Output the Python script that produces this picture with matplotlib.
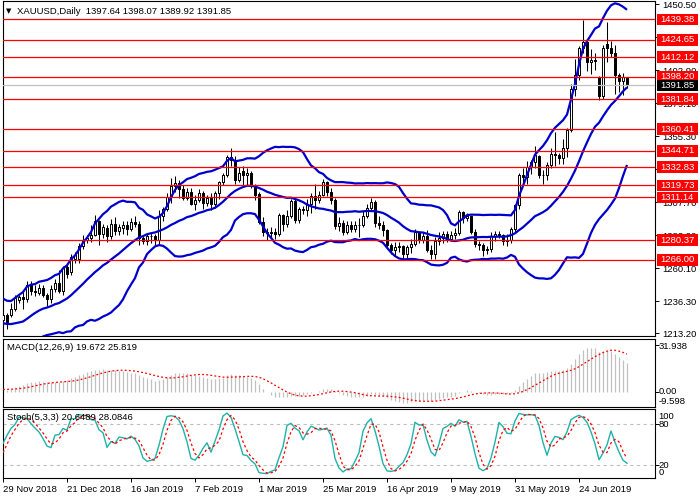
import numpy as np
import pandas as pd
import matplotlib
matplotlib.use("Agg")
import matplotlib.pyplot as plt
from matplotlib.patches import Rectangle
from matplotlib.collections import PatchCollection
import matplotlib.transforms as mtransforms

plt.rcParams['font.family'] = ['Liberation Sans', 'DejaVu Sans']

# ---------------- data (XAUUSD daily, 29 Nov 2018 .. 10 Jul 2019) ----------------
opens = [
    1222.5, 1226.0, 1226.0, 1231.0, 1237.5, 1239.0, 1238.0, 1248.0, 1244.0, 1242.5,
    1246.0, 1241.0, 1238.0, 1245.0, 1249.5, 1243.5, 1261.0, 1257.0, 1266.5, 1267.0,
    1276.0, 1280.5, 1282.0, 1284.0, 1294.0, 1285.0, 1289.0, 1283.5, 1292.0, 1287.0,
    1289.0, 1291.5, 1288.0, 1293.5, 1292.0, 1282.0, 1280.0, 1283.5, 1283.0, 1280.5,
    1298.0, 1302.5, 1311.5, 1319.5, 1321.5, 1317.0, 1311.0, 1315.0, 1306.5, 1309.5,
    1314.0, 1307.0, 1311.0, 1306.0, 1314.0, 1322.0, 1327.5, 1340.5, 1338.0, 1324.0,
    1330.0, 1327.5, 1329.0, 1320.0, 1313.5, 1293.5, 1286.5, 1285.5, 1286.5, 1285.0,
    1298.5, 1292.0, 1298.0, 1308.5, 1295.0, 1302.5, 1302.0, 1306.0, 1312.0, 1309.0,
    1313.0, 1322.0, 1315.0, 1309.5, 1290.5, 1292.5, 1286.5, 1291.0, 1288.5, 1291.0,
    1291.0, 1298.0, 1303.5, 1307.5, 1293.0, 1291.0, 1287.5, 1276.5, 1273.5, 1275.0,
    1276.0, 1270.5, 1275.5, 1277.5, 1286.0, 1280.5, 1283.5, 1273.5, 1270.5, 1279.5,
    1281.5, 1284.5, 1281.0, 1284.0, 1285.5, 1300.5, 1296.5, 1297.5, 1286.5, 1277.5,
    1277.0, 1273.0, 1274.0, 1283.5, 1284.5, 1284.0, 1279.5, 1280.5, 1288.0, 1305.5,
    1327.0, 1326.0, 1333.0, 1336.5, 1341.0, 1327.5, 1327.0, 1334.5, 1342.5, 1341.5,
    1339.5, 1346.5, 1359.5, 1389.0, 1399.5, 1418.5, 1423.5, 1409.0, 1410.0, 1398.0,
    1384.0, 1422.0, 1419.0, 1415.0, 1399.5, 1395.0, 1397.64,
]
highs = [
    1229.8, 1227.5, 1235.0, 1241.0, 1241.0, 1243.0, 1251.0, 1251.0, 1248.0, 1249.0,
    1248.0, 1242.0, 1248.0, 1252.0, 1259.0, 1262.0, 1263.0, 1270.0, 1272.0, 1278.0,
    1284.0, 1284.0, 1291.0, 1298.5, 1295.0, 1292.0, 1291.5, 1295.5, 1297.0, 1292.0,
    1294.0, 1294.0, 1296.0, 1298.0, 1294.0, 1284.0, 1285.5, 1286.0, 1284.5, 1302.0,
    1304.0, 1314.0, 1325.0, 1326.3, 1324.0, 1320.0, 1318.0, 1318.0, 1313.0, 1317.0,
    1316.0, 1313.0, 1314.0, 1316.0, 1323.0, 1329.0, 1342.0, 1346.8, 1341.0, 1333.0,
    1334.0, 1332.0, 1330.5, 1321.0, 1315.0, 1297.0, 1289.0, 1290.0, 1289.0, 1300.0,
    1299.0, 1302.0, 1310.0, 1310.0, 1304.0, 1305.0, 1310.0, 1314.0, 1320.5, 1316.0,
    1324.5, 1323.0, 1318.0, 1311.0, 1297.0, 1295.0, 1294.0, 1294.0, 1294.0, 1296.0,
    1301.0, 1306.0, 1311.0, 1309.0, 1298.0, 1294.0, 1288.5, 1278.0, 1279.0, 1279.0,
    1277.0, 1277.0, 1281.0, 1288.0, 1287.0, 1286.0, 1287.5, 1277.0, 1282.5, 1286.0,
    1287.0, 1287.0, 1287.0, 1289.0, 1302.0, 1301.0, 1300.0, 1298.0, 1288.0, 1280.0,
    1278.0, 1276.0, 1286.0, 1287.0, 1287.0, 1285.0, 1284.5, 1290.0, 1306.5, 1329.0,
    1332.0, 1337.0, 1338.0, 1348.0, 1341.5, 1331.0, 1336.5, 1347.0, 1358.5, 1343.0,
    1353.5, 1361.0, 1393.0, 1411.0, 1420.0, 1439.2, 1425.0, 1418.0, 1415.0, 1398.5,
    1421.0, 1437.7, 1424.0, 1421.0, 1401.0, 1401.0, 1398.07,
]
lows = [
    1219.0, 1216.5, 1225.0, 1229.0, 1235.0, 1231.0, 1236.0, 1241.0, 1240.0, 1241.0,
    1239.0, 1233.0, 1235.0, 1243.0, 1242.0, 1241.0, 1253.0, 1255.0, 1264.0, 1264.0,
    1274.0, 1278.0, 1279.0, 1283.0, 1276.5, 1282.0, 1279.0, 1281.0, 1284.0, 1284.0,
    1285.0, 1284.0, 1287.0, 1290.0, 1276.5, 1277.5, 1277.0, 1278.0, 1277.0, 1277.0,
    1294.0, 1301.0, 1307.0, 1315.0, 1311.0, 1309.0, 1309.0, 1305.5, 1302.0, 1308.0,
    1303.0, 1305.0, 1302.0, 1303.5, 1310.0, 1320.0, 1326.0, 1334.0, 1321.0, 1322.0,
    1319.0, 1320.0, 1318.0, 1309.0, 1292.0, 1283.5, 1280.5, 1282.0, 1281.0, 1283.0,
    1287.0, 1290.0, 1296.0, 1292.5, 1293.0, 1299.0, 1298.0, 1300.0, 1303.0, 1307.0,
    1312.0, 1312.0, 1306.0, 1288.0, 1287.0, 1284.0, 1285.0, 1286.0, 1286.0, 1282.5,
    1290.0, 1296.0, 1301.0, 1290.0, 1288.5, 1283.0, 1274.0, 1270.0, 1269.0, 1272.0,
    1266.0, 1267.0, 1271.0, 1276.0, 1278.0, 1278.0, 1272.0, 1266.5, 1267.0, 1277.0,
    1278.0, 1279.0, 1280.0, 1281.0, 1284.0, 1293.0, 1294.0, 1284.5, 1275.5, 1273.5,
    1269.0, 1270.0, 1272.0, 1280.0, 1282.0, 1277.0, 1276.0, 1278.0, 1286.0, 1303.0,
    1320.0, 1321.0, 1328.0, 1332.0, 1325.0, 1320.5, 1324.0, 1332.0, 1334.0, 1335.0,
    1335.0, 1340.0, 1358.5, 1384.0, 1395.5, 1415.0, 1402.0, 1400.0, 1403.0, 1381.5,
    1382.0, 1409.0, 1412.0, 1386.0, 1387.0, 1385.0, 1389.92,
]
closes = [
    1226.0, 1221.0, 1231.0, 1238.5, 1239.5, 1238.0, 1248.0, 1244.0, 1243.0, 1246.0,
    1241.0, 1238.0, 1245.0, 1249.5, 1243.5, 1260.0, 1256.0, 1268.0, 1269.5, 1276.0,
    1280.5, 1282.0, 1284.0, 1294.0, 1285.0, 1289.5, 1283.5, 1292.0, 1287.0, 1289.5,
    1291.5, 1288.0, 1293.5, 1292.0, 1282.0, 1280.0, 1283.5, 1283.0, 1280.5, 1297.5,
    1302.5, 1311.5, 1319.5, 1321.5, 1317.0, 1311.0, 1315.0, 1306.5, 1309.5, 1314.0,
    1307.0, 1311.0, 1306.0, 1314.0, 1322.0, 1327.5, 1340.5, 1338.0, 1324.0, 1329.0,
    1327.5, 1329.0, 1320.0, 1313.0, 1293.5, 1286.5, 1285.5, 1286.5, 1285.0, 1298.5,
    1292.0, 1298.0, 1308.5, 1295.0, 1302.5, 1302.0, 1306.0, 1312.0, 1309.0, 1313.0,
    1322.0, 1315.0, 1309.5, 1290.5, 1292.5, 1286.5, 1291.0, 1288.5, 1291.0, 1291.0,
    1298.0, 1303.5, 1307.5, 1292.5, 1291.0, 1287.5, 1276.5, 1273.5, 1275.0, 1276.0,
    1270.5, 1275.5, 1277.5, 1286.0, 1280.5, 1283.5, 1273.5, 1270.5, 1279.5, 1281.5,
    1284.5, 1281.0, 1284.0, 1285.5, 1300.5, 1296.5, 1297.5, 1286.5, 1277.5, 1277.0,
    1273.0, 1274.0, 1283.5, 1284.5, 1284.0, 1279.5, 1280.5, 1288.0, 1305.5, 1327.0,
    1326.0, 1333.0, 1336.5, 1341.5, 1327.5, 1327.0, 1334.5, 1342.5, 1341.5, 1339.5,
    1346.5, 1359.5, 1389.0, 1399.5, 1418.5, 1423.5, 1409.0, 1410.0, 1409.5, 1384.0,
    1418.5, 1419.0, 1415.0, 1399.5, 1395.0, 1397.6, 1391.85,
]
# closes before the visible window (Oct-Nov 2018, estimated), used to warm up the indicators
pre_close = [
    1188, 1204, 1202, 1199, 1203, 1188, 1190, 1194, 1225, 1218,
    1232, 1225, 1223, 1227, 1227, 1222, 1231, 1232, 1232, 1234,
    1228, 1224, 1215, 1233, 1233, 1232, 1227, 1228, 1224, 1209,
    1201, 1202, 1211, 1214, 1222, 1224, 1222, 1227, 1227, 1223,
    1222, 1214, 1221,
]
pre_high = [1225, 1226, 1229, 1229, 1229, 1227, 1226, 1224, 1226]
pre_low = [1213, 1220, 1219, 1221, 1225, 1221, 1219, 1211, 1212]

date_labels = ['29 Nov 2018', '21 Dec 2018', '16 Jan 2019', '7 Feb 2019', '1 Mar 2019',
               '25 Mar 2019', '16 Apr 2019', '9 May 2019', '31 May 2019', '24 Jun 2019']
date_bars = [0, 16, 32, 48, 64, 80, 96, 112, 128, 144]
levels = [1439.38, 1424.65, 1412.12, 1398.20, 1381.84, 1360.41, 1344.71, 1332.83,
          1319.73, 1311.14, 1280.37, 1266.00]
price_ticks = [1450.50, 1426.70, 1402.90, 1379.10, 1355.30, 1331.50, 1307.70,
               1283.90, 1260.10, 1236.30, 1213.20]
# tick labels that the level boxes hide completely in the reference
hidden_ticks = [1426.70, 1331.50]
last_price = 1391.85

# ---------------- indicators ----------------
N = len(closes)
x = np.arange(N)
npre = len(pre_close)
c_all = pd.Series(pre_close + closes, dtype=float)
mid = c_all.rolling(20).mean()
sd = c_all.rolling(20).std(ddof=0)
bb_mid = mid.values[npre:]
bb_up = (mid + 2 * sd).values[npre:]
bb_lo = (mid - 2 * sd).values[npre:]

ema12 = c_all.ewm(span=12, adjust=False).mean()
ema26 = c_all.ewm(span=26, adjust=False).mean()
macd = ema12 - ema26
sig = macd.rolling(9).mean()
macd_v = macd.values[npre:]
sig_v = sig.values[npre:]

kp = len(pre_high)
Hs = pd.Series(pre_high + highs, dtype=float)
Ls = pd.Series(pre_low + lows, dtype=float)
Cs = pd.Series(pre_close[-kp:] + closes, dtype=float)
hh = Hs.rolling(5).max()
ll = Ls.rolling(5).min()
K = 100 * (Cs - ll).rolling(3).sum() / (hh - ll).rolling(3).sum()
D = K.rolling(3).mean()
k_v = K.values[kp:]
d_v = D.values[kp:]

# ---------------- figure ----------------
W, HP = 700, 500
fig = plt.figure(figsize=(7, 5), dpi=100)
fig.patch.set_facecolor('white')
L0, R0 = 2.5, 655.0


def rect(top, bottom):
    return [L0 / W, 1 - bottom / HP, (R0 - L0) / W, (bottom - top) / HP]


ax = fig.add_axes(rect(1, 336))
axm = fig.add_axes(rect(339.3, 407.3))
axs = fig.add_axes(rect(409.3, 478.3))

xl = (-(3 - L0) / 4.0, (R0 - 3) / 4.0)
FS = 6.8
for a in (ax, axm, axs):
    a.set_xlim(*xl)
    for s in a.spines.values():
        s.set_linewidth(0.8)
        s.set_color('black')
    a.yaxis.tick_right()
    a.tick_params(axis='y', direction='out', length=3, width=0.7, labelsize=FS, pad=2)

# main panel
ax.set_ylim(1211.2, 1452.7)
ax.set_xticks([])
ax.set_yticks(price_ticks)
ax.set_yticklabels(['' if v in hidden_ticks else '%.2f' % v for v in price_ticks])

for lv in levels:
    ax.axhline(lv, color='#FF0000', lw=0.9, zorder=5)
ax.axhline(last_price, color='#C0C0C0', lw=0.9, zorder=4.5)

ax.vlines(x, lows, highs, color='black', lw=0.75, zorder=3)
bodies = []
fcs = []
for i in range(N):
    o, c = opens[i], closes[i]
    bodies.append(Rectangle((i - 0.32, min(o, c)), 0.64, max(abs(c - o), 0.01)))
    fcs.append('white' if c >= o else 'black')
pc = PatchCollection(bodies, facecolors=fcs, edgecolors='black', linewidths=0.7, zorder=3.2)
ax.add_collection(pc)

for band in (bb_up, bb_mid, bb_lo):
    ax.plot(x, band, color='#0000CD', lw=1.6, zorder=4, solid_capstyle='butt')

# MACD panel
axm.set_ylim(-10.67, 35.84)
axm.set_xticks([])
axm.set_yticks([31.938, 0.0])
axm.set_yticklabels([])
axm.vlines(x, 0, macd_v, color='#C0C0C0', lw=0.9, zorder=2)
axm.plot(x, sig_v, color='#FF0000', lw=0.9, linestyle=(0, (1.5, 1.8)), zorder=3)

# Stochastic panel
axs.set_ylim(0, 101)
axs.set_yticks([80, 20])
axs.set_yticklabels([])
for lv in (80, 20):
    axs.axhline(lv, color='#C0C0C0', lw=0.8, linestyle=(0, (3, 3)), zorder=1)
axs.plot(x, k_v, color='#20B2AA', lw=1.0, zorder=3)
axs.plot(x, d_v, color='#FF0000', lw=0.9, linestyle=(0, (2, 2)), zorder=3)
axs.set_xticks(date_bars)
axs.set_xticklabels(date_labels, ha='left')
axs.tick_params(axis='x', direction='out', length=3, width=0.7, labelsize=FS, pad=1.5)

# ---------------- right-hand price boxes ----------------
ident = mtransforms.IdentityTransform()


def pbox(val, fc):
    yd = ax.transData.transform((0, val))[1]
    fig.add_artist(Rectangle((656.5, yd - 5.8), 41, 11.6, transform=ident,
                             facecolor=fc, edgecolor='none', zorder=5))
    fig.text(677 / W, yd / HP, '%.2f' % val, color='white', ha='center', va='center',
             fontsize=FS, zorder=6)


for lv in levels:
    pbox(lv, '#FF0000')
pbox(last_price, 'black')


def rtext(ypx, s):
    fig.text(658.5 / W, 1 - ypx / HP, s, ha='left', va='center', fontsize=FS, color='black')


rtext(346.7, '31.938')
rtext(391.7, '0.00')
rtext(401.0, '-9.598')
rtext(416.7, '100')
rtext(424.3, '80')
rtext(465.0, '20')
rtext(472.7, '0')

# ---------------- header texts ----------------
fig.text(5.5 / W, 1 - 11 / HP, '\u25BC', fontsize=5, family='DejaVu Sans', va='center', ha='left')
fig.text(17 / W, 1 - 11 / HP, 'XAUUSD,Daily  1397.64 1398.07 1389.92 1391.85',
         fontsize=FS, va='center', ha='left')
fig.text(7 / W, 1 - 347.5 / HP, 'MACD(12,26,9) 19.672 25.819', fontsize=FS, va='center', ha='left')
fig.text(7 / W, 1 - 418 / HP, 'Stoch(5,3,3) 20.6489 28.0846', fontsize=FS, va='center', ha='left',
         zorder=6)

fig.savefig('out.png', dpi=100, facecolor='white')
